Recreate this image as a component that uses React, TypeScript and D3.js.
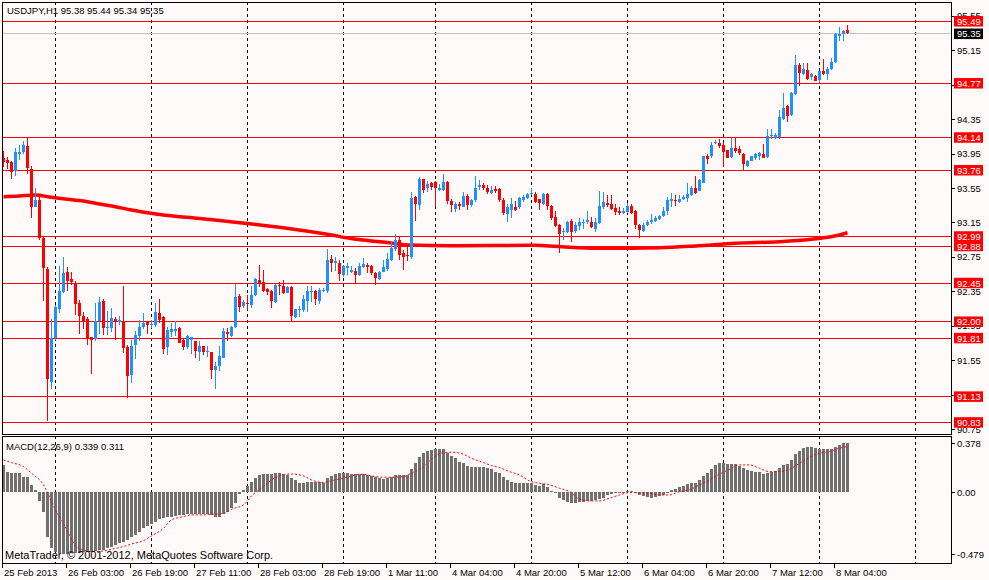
import * as d3 from 'd3'

const W = 989
const H = 580
const LEFT = 2
const RIGHT = 951
const TOP = 2
const MAIN_BOTTOM = 434
const MACD_TOP = 436
const MACD_BOTTOM = 563

const BG = '#FFFAFA'
const BULL = '#1E90FF'
const BEAR = '#FF0000'
const HIST = '#707070'
const FONT = "'Liberation Sans', Arial, sans-serif"

// USDJPY H1, bar 0 = 25 Feb 2013 11:00 ... bar 211 = 8 Mar 2013 07:00  [open, high, low, close]
const ohlc: [number, number, number, number][] = [
  [93.90, 93.98, 93.80, 93.85], [93.88, 93.91, 93.77, 93.84], [93.85, 93.86, 93.65, 93.74], [93.75, 94.02, 93.69, 93.97],
  [93.95, 94.05, 93.87, 93.97], [93.97, 94.10, 93.95, 94.05], [94.04, 94.14, 93.71, 93.78], [93.77, 93.81, 93.20, 93.33],
  [93.33, 93.55, 93.33, 93.41], [93.41, 93.45, 92.95, 92.97], [92.97, 92.98, 92.24, 92.62], [92.61, 92.63, 90.84, 91.33],
  [91.30, 92.03, 91.21, 91.81], [91.81, 92.19, 91.79, 92.17], [92.15, 92.65, 92.10, 92.35], [92.34, 92.75, 92.33, 92.56],
  [92.57, 92.63, 92.35, 92.47], [92.49, 92.58, 92.42, 92.46], [92.44, 92.47, 92.08, 92.20], [92.22, 92.25, 91.86, 92.06],
  [92.06, 92.11, 91.91, 92.01], [92.03, 92.05, 91.73, 91.81], [91.82, 91.82, 91.39, 91.79], [91.80, 92.22, 91.77, 92.00],
  [92.00, 92.28, 91.86, 92.23], [92.24, 92.26, 91.84, 91.92], [91.93, 92.12, 91.84, 91.94], [91.92, 92.16, 91.88, 92.04],
  [92.03, 92.05, 91.79, 92.00], [91.99, 92.06, 91.96, 92.02], [91.99, 92.41, 91.63, 91.69], [91.70, 91.73, 91.11, 91.37],
  [91.38, 91.79, 91.29, 91.72], [91.73, 91.89, 91.56, 91.84], [91.83, 92.02, 91.77, 91.94], [91.94, 92.10, 91.91, 91.98],
  [91.99, 91.99, 91.86, 91.96], [91.96, 92.02, 91.92, 91.97], [91.96, 92.21, 91.94, 92.11], [92.10, 92.26, 91.98, 92.02],
  [92.05, 92.06, 91.62, 91.68], [91.70, 91.94, 91.61, 91.90], [91.88, 91.98, 91.82, 91.91], [91.89, 92.00, 91.83, 91.91],
  [91.93, 91.94, 91.75, 91.75], [91.78, 91.80, 91.67, 91.70], [91.70, 91.84, 91.68, 91.83], [91.79, 91.82, 91.62, 91.82],
  [91.77, 91.77, 91.57, 91.66], [91.65, 91.77, 91.54, 91.72], [91.71, 91.72, 91.61, 91.65], [91.64, 91.71, 91.59, 91.66],
  [91.65, 91.65, 91.33, 91.44], [91.44, 91.53, 91.21, 91.48], [91.48, 91.71, 91.42, 91.60], [91.58, 91.92, 91.57, 91.89],
  [91.88, 91.92, 91.77, 91.85], [91.83, 91.95, 91.82, 91.94], [91.94, 92.44, 91.92, 92.29], [92.30, 92.32, 92.11, 92.17],
  [92.18, 92.25, 92.16, 92.23], [92.22, 92.31, 92.13, 92.20], [92.19, 92.41, 92.16, 92.31], [92.31, 92.50, 92.30, 92.49],
  [92.48, 92.66, 92.40, 92.44], [92.46, 92.60, 92.34, 92.35], [92.38, 92.39, 92.31, 92.34], [92.35, 92.37, 92.16, 92.24],
  [92.23, 92.44, 92.22, 92.42], [92.42, 92.46, 92.31, 92.41], [92.41, 92.48, 92.32, 92.33], [92.33, 92.41, 92.33, 92.40],
  [92.40, 92.41, 91.99, 92.06], [92.05, 92.15, 92.04, 92.15], [92.13, 92.18, 92.05, 92.14], [92.13, 92.31, 92.11, 92.26],
  [92.24, 92.41, 92.11, 92.35], [92.34, 92.41, 92.23, 92.35], [92.35, 92.37, 92.19, 92.26], [92.24, 92.39, 92.20, 92.37],
  [92.35, 92.39, 92.34, 92.36], [92.35, 92.84, 92.33, 92.71], [92.73, 92.77, 92.58, 92.68], [92.68, 92.75, 92.59, 92.70],
  [92.68, 92.71, 92.47, 92.55], [92.54, 92.66, 92.52, 92.64], [92.62, 92.68, 92.54, 92.64], [92.57, 92.64, 92.56, 92.60],
  [92.59, 92.62, 92.45, 92.54], [92.54, 92.68, 92.53, 92.64], [92.63, 92.74, 92.62, 92.67], [92.66, 92.68, 92.56, 92.63],
  [92.64, 92.66, 92.54, 92.56], [92.56, 92.58, 92.42, 92.51], [92.49, 92.59, 92.48, 92.58], [92.58, 92.71, 92.57, 92.63],
  [92.61, 92.79, 92.59, 92.73], [92.71, 92.94, 92.70, 92.85], [92.84, 93.02, 92.82, 92.95], [92.95, 92.98, 92.71, 92.77],
  [92.79, 92.83, 92.60, 92.75], [92.77, 92.87, 92.70, 92.76], [92.75, 93.50, 92.72, 93.43], [93.45, 93.46, 93.17, 93.36],
  [93.35, 93.68, 93.29, 93.66], [93.65, 93.66, 93.49, 93.53], [93.55, 93.63, 93.50, 93.60], [93.61, 93.62, 93.53, 93.56],
  [93.62, 93.63, 93.33, 93.55], [93.53, 93.60, 93.52, 93.55], [93.53, 93.71, 93.51, 93.62], [93.62, 93.63, 93.37, 93.40],
  [93.40, 93.42, 93.27, 93.35], [93.31, 93.39, 93.27, 93.37], [93.36, 93.39, 93.30, 93.34], [93.33, 93.50, 93.33, 93.46],
  [93.46, 93.48, 93.29, 93.35], [93.35, 93.42, 93.33, 93.41], [93.41, 93.69, 93.39, 93.55], [93.56, 93.64, 93.53, 93.59],
  [93.59, 93.61, 93.53, 93.55], [93.55, 93.59, 93.48, 93.50], [93.49, 93.57, 93.48, 93.53], [93.54, 93.57, 93.49, 93.51],
  [93.54, 93.55, 93.39, 93.41], [93.41, 93.43, 93.24, 93.26], [93.25, 93.37, 93.15, 93.33], [93.30, 93.43, 93.20, 93.37],
  [93.33, 93.40, 93.28, 93.30], [93.33, 93.45, 93.31, 93.43], [93.41, 93.47, 93.39, 93.45], [93.44, 93.49, 93.42, 93.48],
  [93.48, 93.55, 93.47, 93.49], [93.48, 93.50, 93.38, 93.39], [93.42, 93.42, 93.30, 93.38], [93.36, 93.49, 93.35, 93.48],
  [93.48, 93.49, 93.29, 93.34], [93.34, 93.35, 93.18, 93.20], [93.21, 93.28, 93.10, 93.11], [93.12, 93.13, 92.79, 93.02],
  [93.04, 93.09, 92.95, 93.05], [93.04, 93.17, 93.03, 93.16], [93.17, 93.19, 92.92, 93.04], [93.05, 93.15, 93.03, 93.12],
  [93.11, 93.20, 93.06, 93.16], [93.14, 93.19, 93.07, 93.16], [93.15, 93.28, 93.13, 93.18], [93.16, 93.21, 93.09, 93.10],
  [93.07, 93.20, 93.04, 93.15], [93.14, 93.52, 93.13, 93.34], [93.33, 93.50, 93.31, 93.39], [93.38, 93.47, 93.33, 93.35],
  [93.37, 93.47, 93.30, 93.31], [93.32, 93.37, 93.24, 93.27], [93.28, 93.33, 93.24, 93.26], [93.26, 93.32, 93.25, 93.28],
  [93.27, 93.38, 93.26, 93.34], [93.34, 93.37, 93.25, 93.26], [93.28, 93.30, 93.08, 93.12], [93.12, 93.13, 92.97, 93.06],
  [93.05, 93.14, 93.04, 93.12], [93.12, 93.18, 93.11, 93.16], [93.15, 93.25, 93.13, 93.18], [93.17, 93.22, 93.16, 93.20],
  [93.19, 93.24, 93.18, 93.22], [93.22, 93.33, 93.21, 93.28], [93.28, 93.45, 93.24, 93.41], [93.40, 93.49, 93.33, 93.42],
  [93.41, 93.47, 93.34, 93.40], [93.39, 93.47, 93.38, 93.42], [93.42, 93.47, 93.41, 93.45], [93.43, 93.61, 93.39, 93.48],
  [93.47, 93.57, 93.46, 93.55], [93.55, 93.69, 93.48, 93.49], [93.52, 93.65, 93.51, 93.64], [93.61, 93.92, 93.61, 93.92],
  [93.92, 93.94, 93.83, 93.89], [93.92, 94.09, 93.90, 94.05], [94.07, 94.11, 94.06, 94.09], [94.07, 94.12, 94.02, 94.04],
  [94.05, 94.09, 93.80, 93.97], [93.99, 93.99, 93.90, 93.90], [93.91, 94.13, 93.90, 94.01], [94.02, 94.13, 93.96, 93.98],
  [94.00, 94.04, 93.93, 93.96], [93.95, 93.96, 93.76, 93.83], [93.81, 93.88, 93.80, 93.86], [93.86, 93.92, 93.86, 93.92],
  [93.90, 93.96, 93.88, 93.94], [93.92, 93.97, 93.88, 93.96], [93.95, 94.06, 93.90, 93.90], [93.91, 94.23, 93.90, 94.15],
  [94.15, 94.23, 94.12, 94.17], [94.13, 94.19, 94.12, 94.17], [94.14, 94.46, 94.12, 94.38], [94.35, 94.65, 94.34, 94.48],
  [94.50, 94.51, 94.32, 94.39], [94.40, 94.66, 94.39, 94.65], [94.64, 95.10, 94.63, 94.98], [94.98, 95.00, 94.73, 94.89],
  [94.87, 95.00, 94.86, 94.93], [94.92, 95.00, 94.81, 94.82], [94.84, 94.89, 94.80, 94.87], [94.85, 94.86, 94.79, 94.79],
  [94.81, 94.91, 94.77, 94.91], [94.91, 95.05, 94.86, 94.87], [94.88, 94.96, 94.81, 94.93], [94.93, 95.06, 94.92, 95.01],
  [95.01, 95.35, 95.00, 95.34], [95.32, 95.42, 95.26, 95.34], [95.34, 95.39, 95.26, 95.37], [95.38, 95.44, 95.34, 95.35],
]

// moving average: [bar, price]
const maPoints: [number, number][] = [
  [0, 93.449], [4, 93.457], [8, 93.469], [12, 93.442], [16, 93.419], [20, 93.399], [24, 93.364],
  [28, 93.333], [32, 93.295], [36, 93.264], [40, 93.237], [49, 93.196], [61, 93.138], [73, 93.069],
  [82, 93.005], [86.5, 92.966], [91.5, 92.938], [96.5, 92.915], [101.5, 92.888], [111.5, 92.88],
  [133, 92.885], [136.5, 92.877], [141.5, 92.862], [149, 92.85], [164, 92.857], [173, 92.877],
  [183, 92.908], [194, 92.927], [200, 92.947], [206, 92.978], [209, 93.005], [211, 93.031],
]

// MACD(12,26,9) main values, one per bar
const macdMain = [
  0.211, 0.159, 0.152, 0.147, 0.147, 0.121, 0.116, 0.057, 0.018, -0.064, -0.149, -0.342, -0.432, -0.458,
  -0.471, -0.478, -0.476, -0.471, -0.471, -0.466, -0.463, -0.46, -0.458, -0.453, -0.448, -0.445, -0.432,
  -0.419, -0.406, -0.394, -0.381, -0.368, -0.347, -0.329, -0.303, -0.278, -0.26, -0.244, -0.226, -0.208,
  -0.201, -0.193, -0.188, -0.183, -0.177, -0.172, -0.17, -0.17, -0.17, -0.17, -0.17, -0.17, -0.177, -0.193,
  -0.188, -0.167, -0.149, -0.123, -0.08, -0.013, 0.018, 0.051, 0.082, 0.113, 0.134, 0.141, 0.141, 0.141,
  0.147, 0.152, 0.141, 0.134, 0.108, 0.095, 0.075, 0.075, 0.08, 0.08, 0.08, 0.08, 0.075, 0.108, 0.126,
  0.141, 0.147, 0.147, 0.147, 0.141, 0.141, 0.141, 0.141, 0.134, 0.126, 0.116, 0.108, 0.103, 0.108, 0.121,
  0.134, 0.134, 0.134, 0.134, 0.177, 0.224, 0.27, 0.301, 0.319, 0.327, 0.332, 0.332, 0.332, 0.306, 0.28,
  0.262, 0.237, 0.224, 0.203, 0.198, 0.198, 0.198, 0.198, 0.185, 0.177, 0.159, 0.147, 0.116, 0.095, 0.082,
  0.075, 0.075, 0.069, 0.075, 0.069, 0.057, 0.051, 0.062, 0.039, 0.01, -0.008, -0.046, -0.059, -0.072,
  -0.08, -0.08, -0.072, -0.072, -0.067, -0.067, -0.059, -0.054, -0.041, -0.023, -0.013, -0.005, 0.003,
  0.005, 0.008, 0.013, -0.008, -0.021, -0.028, -0.039, -0.041, -0.036, -0.031, -0.021, 0.005, 0.018,
  0.028, 0.044, 0.049, 0.064, 0.075, 0.075, 0.095, 0.126, 0.152, 0.177, 0.211, 0.224, 0.224, 0.219, 0.219,
  0.219, 0.203, 0.185, 0.172, 0.167, 0.159, 0.154, 0.141, 0.152, 0.159, 0.165, 0.185, 0.211, 0.216, 0.249,
  0.296, 0.319, 0.34, 0.352, 0.352, 0.345, 0.332, 0.332, 0.332, 0.337, 0.347, 0.365, 0.378, 0.378,
]

// signal line: [bar, value]
const signalPoints: [number, number][] = [
  [0, 0.249], [2, 0.229], [5, 0.198], [7, 0.147], [10, 0.057], [11.5, -0.033], [13, -0.136], [15, -0.239],
  [16.5, -0.329], [18, -0.414], [20, -0.445], [22, -0.458], [25, -0.453], [27, -0.44], [30, -0.419],
  [32, -0.399], [35, -0.373], [37, -0.337], [40, -0.278], [42, -0.213], [45, -0.188], [47, -0.175],
  [50, -0.175], [52, -0.17], [55, -0.162], [57, -0.131], [60, -0.098], [62, -0.028], [65, 0.044],
  [67, 0.095], [70, 0.134], [72, 0.141], [75, 0.126], [77, 0.095], [80, 0.075], [82, 0.09], [85, 0.108],
  [87, 0.126], [90, 0.139], [92, 0.126], [95, 0.116], [97, 0.116], [100, 0.121], [102, 0.147], [105, 0.198],
  [107, 0.255], [110, 0.306], [112, 0.309], [115, 0.293], [117, 0.262], [120, 0.229], [122, 0.206],
  [124, 0.19], [126.5, 0.159], [129, 0.134], [131.5, 0.087], [134, 0.069], [136.5, 0.057], [139, 0.031],
  [141.5, 0.005], [144, -0.054], [146.5, -0.067], [149, -0.067], [151.5, -0.046], [154, -0.021],
  [156.5, -0.003], [159, -0.003], [161.5, -0.008], [164, -0.021], [166.5, -0.021], [169, 0.005],
  [171.5, 0.018], [174, 0.057], [176.5, 0.095], [179, 0.139], [181.5, 0.177], [184, 0.211], [186.5, 0.211],
  [189, 0.185], [191.5, 0.159], [194, 0.159], [196.5, 0.177], [199, 0.224], [201.5, 0.27], [204, 0.301],
  [206.5, 0.314], [209, 0.34], [211, 0.352],
]

// horizontal levels drawn on the chart
const levels = [95.49, 94.77, 94.14, 93.76, 92.99, 92.88, 92.45, 92.0, 91.81, 91.13, 90.83]
const bid = 95.35

const priceTicks = [95.55, 95.15, 94.75, 94.35, 93.95, 93.55, 93.15, 92.75, 92.35, 91.95, 91.55, 91.15, 90.75]
const macdTicks = [0.378, 0, -0.479]
const macdTickText = ['0.378', '0.00', '-0.479']

// first bar of each day (vertical dashed grid)
const dayStarts = [13, 37, 61, 85, 108, 132, 156, 180, 204, 228]
const timeLabels: [number, string][] = [
  [0, '25 Feb 2013'], [16, '26 Feb 03:00'], [32, '26 Feb 19:00'], [48, '27 Feb 11:00'],
  [64, '28 Feb 03:00'], [80, '28 Feb 19:00'], [96, '1 Mar 11:00'], [112, '4 Mar 04:00'],
  [128, '4 Mar 20:00'], [144, '5 Mar 12:00'], [160, '6 Mar 04:00'], [176, '6 Mar 20:00'],
  [192, '7 Mar 12:00'], [208, '8 Mar 04:00'],
]

export default function App() {
  const x = d3.scaleLinear().domain([0, 236]).range([3.5, 3.5 + 236 * 4])
  const y = d3.scaleLinear().domain([90.693, 95.711]).range([MAIN_BOTTOM, TOP])
  const ym = d3.scaleLinear().domain([-0.546, 0.434]).range([MACD_BOTTOM, MACD_TOP])

  const maLine = d3.line<[number, number]>()
    .x((d) => x(d[0]))
    .y((d) => y(d[1]))
    .curve(d3.curveMonotoneX)

  const sigLine = d3.line<[number, number]>()
    .x((d) => x(d[0]))
    .y((d) => ym(d[1]))
    .curve(d3.curveMonotoneX)

  const last = ohlc[ohlc.length - 1]
  const macdLast = macdMain[macdMain.length - 1]

  return (
    <svg width={W} height={H} style={{ display: 'block', background: BG, fontFamily: FONT }}>
      <style>{'body{margin:0}'}</style>
      <rect x={0} y={0} width={W} height={H} fill={BG} />

      <defs>
        <clipPath id="main-clip">
          <rect x={LEFT} y={TOP} width={RIGHT - LEFT} height={MAIN_BOTTOM - TOP} />
        </clipPath>
      </defs>

      {/* day grid */}
      {dayStarts.map((d) => (
        <g key={d} stroke="#000" strokeDasharray="3,3" shapeRendering="crispEdges">
          <line x1={x(d)} x2={x(d)} y1={TOP} y2={MAIN_BOTTOM} />
          <line x1={x(d)} x2={x(d)} y1={MACD_TOP} y2={MACD_BOTTOM} />
        </g>
      ))}

      {/* levels */}
      {levels.map((p) => (
        <line key={p} x1={LEFT} x2={RIGHT} y1={Math.round(y(p)) + 0.5} y2={Math.round(y(p)) + 0.5}
          stroke="#FF0000" strokeWidth={1} />
      ))}
      <line x1={LEFT} x2={RIGHT} y1={Math.round(y(bid)) + 0.5} y2={Math.round(y(bid)) + 0.5} stroke="#C0C0C0" />

      {/* moving average */}
      <path d={maLine(maPoints) ?? ''} fill="none" stroke="#FF0000" strokeWidth={3.5} clipPath="url(#main-clip)" />

      {/* candles */}
      <g shapeRendering="crispEdges" clipPath="url(#main-clip)">
        {ohlc.map(([o, h, l, c], i) => {
          const col = c >= o ? BULL : BEAR
          const cx = x(i)
          const top = y(Math.max(o, c))
          const bot = y(Math.min(o, c))
          return (
            <g key={i}>
              <line x1={cx} x2={cx} y1={y(h)} y2={y(l)} stroke={col} />
              <rect x={cx - 1.5} y={top} width={3} height={Math.max(1, bot - top)} fill={col} />
            </g>
          )
        })}
      </g>

      {/* MACD */}
      <g shapeRendering="crispEdges">
        {macdMain.map((v, i) => {
          const y0 = ym(0)
          const yv = ym(v)
          return <rect key={i} x={x(i) - 1.5} y={Math.min(y0, yv)} width={3} height={Math.max(1, Math.abs(yv - y0))} fill={HIST} />
        })}
      </g>
      <path d={sigLine(signalPoints) ?? ''} fill="none" stroke="#FF0000" strokeWidth={1} strokeDasharray="2,2" />

      {/* frames */}
      <g fill="none" stroke="#000" shapeRendering="crispEdges">
        <rect x={LEFT + 0.5} y={TOP + 0.5} width={RIGHT - LEFT} height={MAIN_BOTTOM - TOP} />
        <rect x={LEFT + 0.5} y={MACD_TOP + 0.5} width={RIGHT - LEFT} height={MACD_BOTTOM - MACD_TOP} />
      </g>

      {/* price axis */}
      <g fontSize={9.5} fill="#000">
        {priceTicks.map((p) => (
          <g key={p}>
            <line x1={RIGHT} x2={RIGHT + 4} y1={Math.round(y(p)) + 0.5} y2={Math.round(y(p)) + 0.5} stroke="#000" />
            <text x={RIGHT + 6} y={y(p)} dominantBaseline="central">{p.toFixed(2)}</text>
          </g>
        ))}
        {levels.map((p) => (
          <g key={p}>
            <rect x={RIGHT + 3} y={y(p) - 5} width={29} height={10.5} fill="#FF0000" />
            <text x={RIGHT + 6} y={y(p) + 0.5} dominantBaseline="central" fill="#fff">{p.toFixed(2)}</text>
          </g>
        ))}
        <rect x={RIGHT + 3} y={y(bid) - 4.5} width={29} height={10.5} fill="#000" />
        <text x={RIGHT + 6} y={y(bid) + 0.8} dominantBaseline="central" fill="#fff">{bid.toFixed(2)}</text>

        {macdTicks.map((v, i) => (
          <g key={v}>
            <line x1={RIGHT} x2={RIGHT + 4} y1={Math.round(ym(v)) + 0.5} y2={Math.round(ym(v)) + 0.5} stroke="#000" />
            <text x={RIGHT + 6} y={ym(v)} dominantBaseline="central">{macdTickText[i]}</text>
          </g>
        ))}
      </g>

      {/* time axis */}
      <g fontSize={9.5} fill="#000">
        {timeLabels.map(([b, t]) => (
          <g key={t}>
            <line x1={Math.round(x(b) - 1.5) + 0.5} x2={Math.round(x(b) - 1.5) + 0.5} y1={MACD_BOTTOM} y2={MACD_BOTTOM + 5} stroke="#000" />
            <text x={x(b) + 0.5} y={576}>{t}</text>
          </g>
        ))}
      </g>

      {/* titles */}
      <text x={7} y={14} fontSize={9.5}>
        {`USDJPY,H1  ${last[0].toFixed(2)} ${last[1].toFixed(2)} ${last[2].toFixed(2)} ${last[3].toFixed(2)}`}
      </text>
      <text x={6} y={450} fontSize={9.5}>{`MACD(12,26,9) 0.339 0.311`}</text>
      <text x={5} y={559} fontSize={11}>MetaTrader, © 2001-2012, MetaQuotes Software Corp.</text>
      {macdLast > 0 ? null : null}
    </svg>
  )
}
